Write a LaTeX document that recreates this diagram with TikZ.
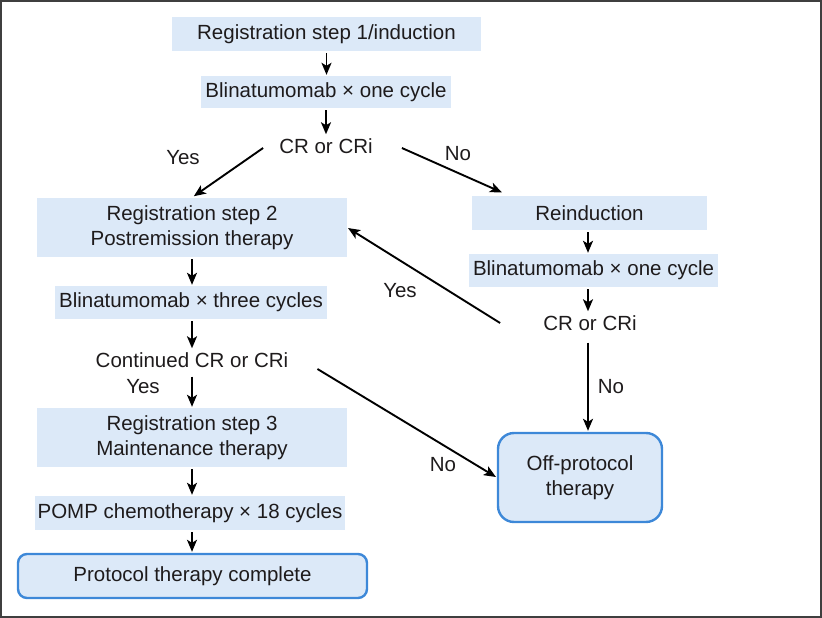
\documentclass[tikz,border=0pt]{standalone}
\usepackage{fontspec}
\setmainfont{Liberation Sans}
\usetikzlibrary{arrows.meta}
\definecolor{boxfill}{HTML}{DCE9F8}
\definecolor{boxline}{HTML}{3D88D8}
\definecolor{txt}{HTML}{1E1B1C}
\definecolor{framecol}{HTML}{3F3F3F}
\begin{document}
\begin{tikzpicture}[x=1pt,y=-1pt,
  font=\fontsize{20.5}{25}\selectfont, text=txt,
  box/.style={fill=boxfill, inner sep=0pt, align=center},
  endbox/.style={fill=boxfill, draw=boxline, line width=2.4pt, inner sep=0pt, align=center},
  plain/.style={inner sep=3pt, align=center},
  lbl/.style={inner sep=0pt},
  arr/.style={-{Stealth[length=12pt,width=10pt,inset=3pt]}, line width=1.9pt, draw=black, shorten <=2pt, shorten >=1pt},
  frame/.style={draw=framecol, line width=1.6pt}
]
\useasboundingbox (0,0) rectangle (822,618);
\draw[frame] (0.8,0.8) rectangle (821.2,617.2);

\coordinate (colL) at (192,0);
\coordinate (colR) at (588,0);

\node[box, minimum width=309pt, minimum height=34pt] (b1) at (326.5,34) {Registration step 1/induction};
\node[box, minimum width=250pt, minimum height=32pt] (b2) at (326,92) {Blinatumomab × one cycle};
\node[plain] (cr1) at (326,146) {CR or CRi};
\node[box, minimum width=310pt, minimum height=59pt] (s2) at (192,227.5) {Registration step 2\\Postremission therapy};
\node[box, minimum width=235pt, minimum height=34pt] (ri) at (589.5,213) {Reinduction};
\node[box, minimum width=249pt, minimum height=33pt] (br) at (593.5,270.5) {Blinatumomab × one cycle};
\node[plain] (cr2) at (590,323) {CR or CRi};
\node[box, minimum width=272pt, minimum height=33pt] (b3) at (191,302.5) {Blinatumomab × three cycles};
\node[plain] (cc) at (192,360) {Continued CR or CRi};
\node[box, minimum width=310pt, minimum height=59pt] (s3) at (192,437.5) {Registration step 3\\Maintenance therapy};
\node[box, minimum width=310pt, minimum height=34pt] (pm) at (190,513) {POMP chemotherapy × 18 cycles};
\node[endbox, rounded corners=9pt, minimum width=349pt, minimum height=44pt] (pc) at (192.5,576) {Protocol therapy complete};
\node[endbox, rounded corners=16pt, minimum width=164pt, minimum height=89pt] (off) at (580,477.5) {Off-protocol\\therapy};

\node[lbl] (y1) at (183,158) {Yes};
\node[lbl] (n1) at (458,154) {No};
\node[lbl] (y2) at (400,291) {Yes};
\node[lbl] (n2) at (611,387) {No};
\node[lbl] (n3) at (443,465) {No};
\node[lbl] (y3) at (143,387) {Yes};

\draw[arr] (b1.south) -- (b1.south |- b2.north);
\draw[arr] (b2.south) -- (b2.south |- cr1.north);
\draw[arr, shorten <=0pt] ([xshift=-13pt,yshift=-2pt]cr1.west) -- ([xshift=1pt,yshift=1pt]s2.north);
\draw[arr, shorten <=0pt] ([xshift=26pt,yshift=-2pt]cr1.east) -- ([xshift=31pt,yshift=3pt]ri.north west);
\draw[arr] (ri.south -| colR) -- (br.north -| colR);
\draw[arr] (br.south -| colR) -- (cr2.north -| colR);
\draw[arr, shorten <=0pt] ([xshift=-40pt]cr2.west) -- (s2.east);
\draw[arr, shorten <=9pt] (cr2.south -| colR) -- (off.north -| colR);
\draw[arr, shorten <=0pt] ([xshift=26pt,yshift=-9pt]cc.east) -- (off.west);

\draw[arr] (s2.south -| colL) -- (b3.north -| colL);
\draw[arr] (b3.south -| colL) -- (cc.north -| colL);
\draw[arr, shorten <=6pt] (cc.south -| colL) -- (s3.north -| colL);
\draw[arr] (s3.south -| colL) -- (pm.north -| colL);
\draw[arr] (pm.south -| colL) -- (pc.north -| colL);
\end{tikzpicture}
\end{document}
